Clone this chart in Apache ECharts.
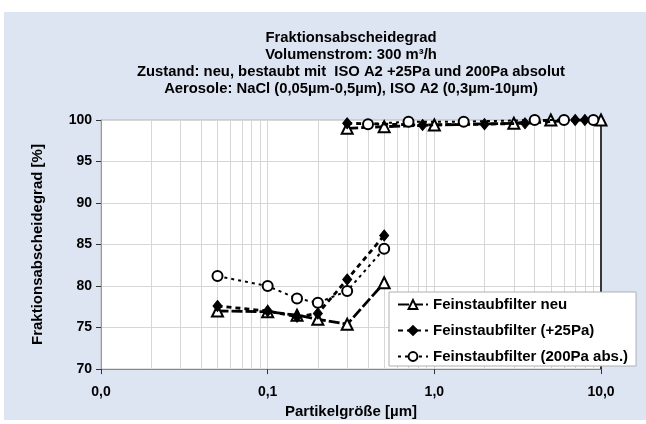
<!DOCTYPE html>
<html>
<head>
<meta charset="utf-8">
<script src="https://cdn.jsdelivr.net/npm/echarts@6/dist/echarts.min.js"></script>
<style>
  html, body { margin: 0; padding: 0; background: #fff; }
  .wrap { position: relative; width: 646px; height: 424px; }
  .bg { position: absolute; left: 4px; top: 12px; width: 642px; height: 408px; background: #dde4f2; }
  #chart { position: absolute; left: 0; top: 0; width: 646px; height: 424px; }
</style>
</head>
<body>
<div class="wrap">
  <div class="bg"></div>
  <div id="chart"></div>
</div>
<script>
// NaCl-Messung (0,05-0,5 µm)
const naclSizes = [0.05, 0.1, 0.15, 0.2, 0.3, 0.5];
const neuNacl = [77.0, 76.9, 76.5, 76.0, 75.4, 80.4];
const pa25Nacl = [77.6, 77.0, 76.3, 76.7, 80.8, 86.1];
const pa200Nacl = [81.2, 80.0, 78.5, 78.0, 79.4, 84.5];

// ISO A2 Messung (0,3-10 µm)
const neuIsoSizes = [0.3, 0.5, 1.0, 3.0, 5.0, 10.0];
const neuIso = [99.0, 99.2, 99.4, 99.6, 100.0, 100.0];
const pa25IsoSizes = [0.3, 0.85, 2.0, 3.5, 7.0, 8.0];
const pa25Iso = [99.6, 99.4, 99.5, 99.6, 100.0, 100.0];
const pa200IsoSizes = [0.4, 0.7, 1.5, 4.0, 6.0, 9.0];
const pa200Iso = [99.5, 99.8, 99.8, 100.0, 100.0, 100.0];

const seriesNames = ["Feinstaubfilter neu", "Feinstaubfilter (+25Pa)", "Feinstaubfilter (200Pa abs.)"];
const xTickValues = [0.01, 0.1, 1, 10];
const xTickLabels = ["0,0", "0,1", "1,0", "10,0"];
// Zwischenlinien der log. Achse (2..9 je Dekade)
const minorX = [];
[0.01, 0.1, 1].forEach((d) => {
  for (let k = 2; k <= 9; k++) minorX.push(+(d * k).toFixed(4));
});

const pairs = (xs, ys) => xs.map((x, i) => [x, ys[i]]);
const font = "Liberation Sans";

let myChart = echarts.init(document.getElementById("chart"));

// Stil je Reihe: Linie + Marker
const styles = [
  { dash: [11, 3], width: 2.8, symbol: "emptyTriangle", size: 11 },
  { dash: [5, 4], width: 2.8, symbol: "diamond", size: [9, 11] },
  { dash: [3, 4], width: 2, symbol: "emptyCircle", size: 10 },
];

function makeSeries(idx, data) {
  const s = styles[idx];
  return {
    name: seriesNames[idx],
    type: "line",
    data: data,
    symbol: s.symbol,
    symbolSize: s.size,
    z: 3 + idx,
    itemStyle: { color: "#000", borderColor: "#000", borderWidth: 1 },
    lineStyle: { color: "#000", width: s.width, type: s.dash },
  };
}

let option = {
  animation: false,
  backgroundColor: "transparent",
  textStyle: { fontFamily: font },
  title: {
    text: "Fraktionsabscheidegrad\nVolumenstrom: 300 m³/h\nZustand: neu, bestaubt mit  ISO A2 +25Pa und 200Pa absolut\nAerosole: NaCl (0,05µm-0,5µm), ISO A2 (0,3µm-10µm)",
    left: 351,
    top: 29,
    padding: 0,
    textAlign: "center",
    textStyle: { fontFamily: font, fontSize: 14.8, fontWeight: "bold", color: "#000", lineHeight: 17 },
  },
  legend: {
    data: seriesNames,
    orient: "vertical",
    left: 389,
    top: 292,
    width: 247,
    z: 30,
    padding: [5, 8, 2, 8],
    itemGap: 11,
    itemWidth: 30,
    itemHeight: 11,
    backgroundColor: "#fff",
    borderColor: "#b0b0b0",
    borderWidth: 1,
    textStyle: { fontFamily: font, fontSize: 15, fontWeight: "bold", color: "#000" },
  },
  grid: {
    left: 101,
    right: 45,
    top: 120,
    bottom: 54,
    show: true,
    backgroundColor: "#fff",
    borderColor: "#b8b8b8",
    borderWidth: 1,
  },
  xAxis: {
    type: "log",
    logBase: 10,
    min: 0.01,
    max: 10,
    name: "Partikelgröße [µm]",
    nameLocation: "middle",
    nameGap: 32,
    nameTextStyle: { fontFamily: font, fontSize: 15, fontWeight: "bold", color: "#000" },
    axisLine: { show: true, lineStyle: { color: "#888", width: 1 } },
    axisTick: { show: true, length: 5, lineStyle: { color: "#333" } },
    axisLabel: {
      margin: 16,
      fontFamily: font,
      fontSize: 14,
      fontWeight: "bold",
      color: "#000",
      formatter: (v) => {
        const i = xTickValues.findIndex((t) => Math.abs(Math.log10(t) - Math.log10(v)) < 1e-6);
        return i >= 0 ? xTickLabels[i] : "";
      },
    },
    splitLine: { show: true, lineStyle: { color: "#d6d6d6", width: 1 } },
  },
  yAxis: [
    {
      type: "value",
      min: 70,
      max: 100,
      interval: 5,
      name: "Fraktionsabscheidegrad [%]",
      nameLocation: "middle",
      nameGap: 56,
      nameTextStyle: { fontFamily: font, fontSize: 15, fontWeight: "bold", color: "#000" },
      axisLine: { show: true, lineStyle: { color: "#999", width: 1 } },
      axisTick: { show: true, length: 5, lineStyle: { color: "#333" } },
      axisLabel: { margin: 9, fontFamily: font, fontSize: 14, fontWeight: "bold", color: "#000" },
      splitLine: { show: true, lineStyle: { color: "#d6d6d6", width: 1 } },
    },
    {
      // rechter Rand schwarz
      type: "value",
      position: "right",
      min: 70,
      max: 100,
      interval: 5,
      axisLine: { show: true, lineStyle: { color: "#000", width: 1.5 } },
      axisTick: { show: false },
      axisLabel: { show: false },
      splitLine: { show: false },
    },
  ],
  series: [
    {
      // Zwischengitter
      type: "line",
      data: [],
      silent: true,
      z: 1,
      markLine: {
        silent: true,
        z: 1,
        symbol: "none",
        label: { show: false },
        lineStyle: { color: "#d6d6d6", type: "solid", width: 1 },
        data: minorX.map((v) => ({ xAxis: v })),
      },
    },
    {
      // kleine Striche unter der x-Achse
      type: "line",
      data: [],
      silent: true,
      clip: false,
      z: 1,
      markLine: {
        silent: true,
        z: 1,
        symbol: "none",
        label: { show: false },
        lineStyle: { color: "#333", type: "solid", width: 1 },
        data: minorX.map((v) => [{ coord: [v, 70] }, { coord: [v, 69.4] }]),
      },
    },
    makeSeries(0, pairs(naclSizes, neuNacl)),
    makeSeries(1, pairs(naclSizes, pa25Nacl)),
    makeSeries(2, pairs(naclSizes, pa200Nacl)),
    makeSeries(0, pairs(neuIsoSizes, neuIso)),
    makeSeries(1, pairs(pa25IsoSizes, pa25Iso)),
    makeSeries(2, pairs(pa200IsoSizes, pa200Iso)),
  ],
};

myChart.setOption(option, true);
</script>
</body>
</html>
